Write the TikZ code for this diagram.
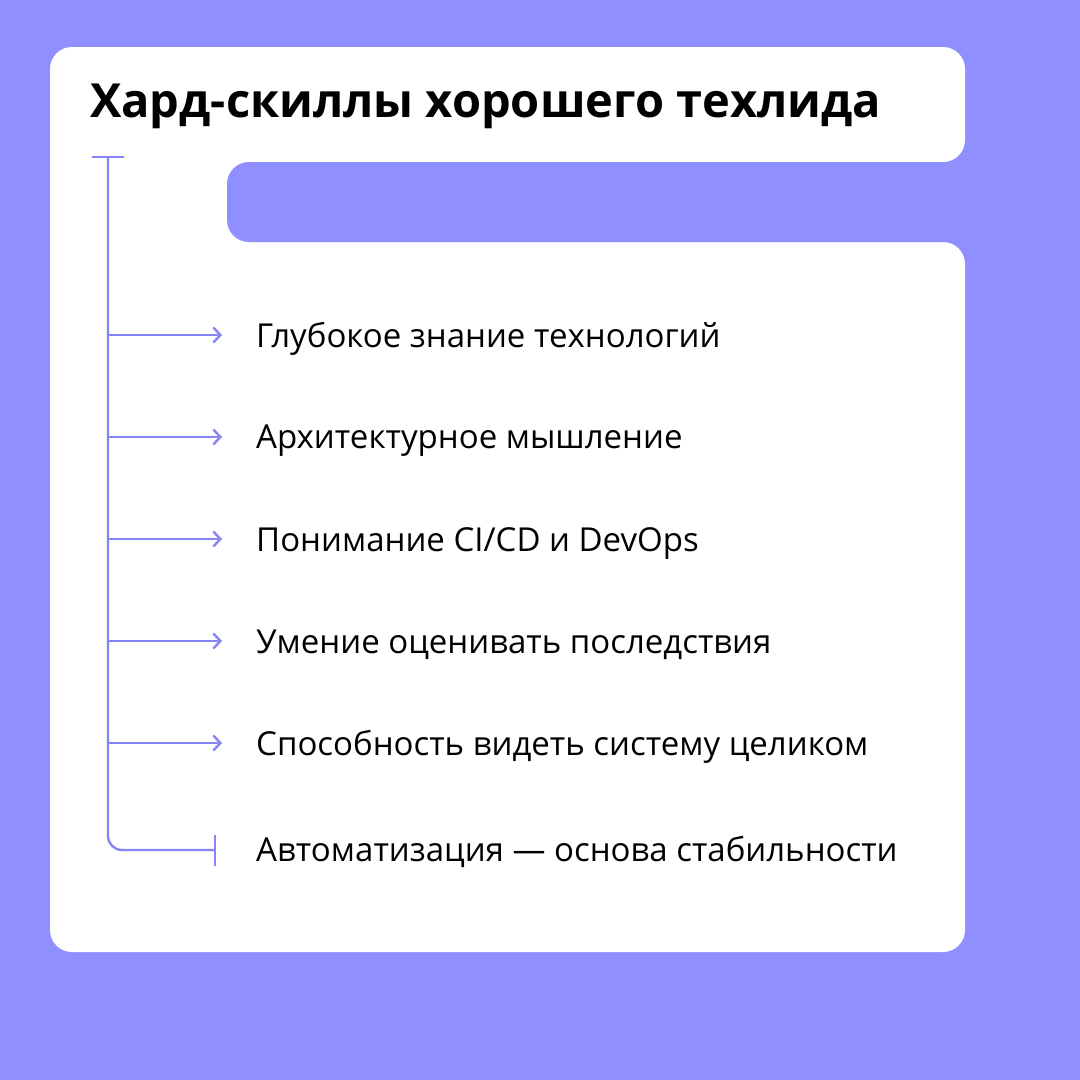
\documentclass[tikz,border=0pt]{standalone}
\usepackage{fontspec}
\setmainfont{Open Sans}
\definecolor{bg}{HTML}{8F8FFF}
\definecolor{ln}{HTML}{8585F5}
\usetikzlibrary{arrows.meta}
\begin{document}
\begin{tikzpicture}[x=1pt,y=-1pt,
  item/.style={anchor=west,font=\fontsize{33}{38}\selectfont,inner sep=0pt},
  arr/.style={ln,line width=2.4pt,-{Straight Barb[length=7pt,width=15pt,line width=2.4pt]}}]
\fill[bg] (0,0) rectangle (1080,1080);
\fill[white,rounded corners=22] (50,47) rectangle (965,162);
\fill[white,rounded corners=22] (50,242) rectangle (965,952);
\fill[white] (50,140) rectangle (260,265);
\fill[bg,rounded corners=22] (227,162) rectangle (1000,242);
\fill[bg] (965,180) rectangle (1000,225);
\node[anchor=west,inner sep=0pt,font=\fontsize{47}{53}\selectfont\bfseries] (title) at (90,106) {Хард-скиллы хорошего техлида};
\coordinate (top) at (108,157);
\draw[ln,line width=2.4pt] (92,157) -- (124,157);
\node[item] (i1) at (256,339) {Глубокое знание технологий};
\node[item] (i2) at (256,441) {Архитектурное мышление};
\node[item] (i3) at (256,543) {Понимание CI/CD и DevOps};
\node[item] (i4) at (256,645) {Умение оценивать последствия};
\node[item] (i5) at (256,747) {Способность видеть систему целиком};
\node[item] (i6) at (256,852) {Автоматизация — основа стабильности};
\foreach \i in {1,...,5}{
  \coordinate (b\i) at (108,0 |- i\i.west);
  \coordinate (e\i) at (222,0 |- i\i.west);
  \draw[arr] ([yshift=4pt]b\i) -- ([yshift=4pt]e\i);
}
\coordinate (end) at (215,850);
\draw[ln,line width=2.4pt,rounded corners=14] (top) -- (108,850) -- (end);
\draw[ln,line width=2.4pt] (215,835) -- (215,866);
\end{tikzpicture}
\end{document}
